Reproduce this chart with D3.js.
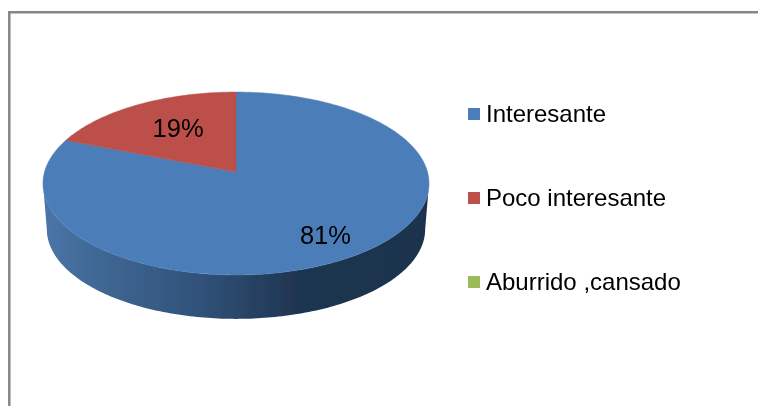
<!DOCTYPE html>
<html>
<head>
<meta charset="utf-8">
<script src="https://cdn.jsdelivr.net/npm/d3@7"></script>
<style>
  html, body { margin: 0; padding: 0; background: #fff; overflow: hidden; }
  text { font-family: "Liberation Sans", Arial, sans-serif; fill: #000; }
</style>
</head>
<body>
<div id="chart"></div>
<script>
const categories = ["Interesante", "Poco interesante", "Aburrido ,cansado"];
const percentages = [81, 19, 0];
const sliceColors = ["#4c7eb9", "#bd4f4b", "#9bbb59"];

const width = 758;
const height = 406;

// Pie geometry: a disc seen in perspective, so the apex sits above the ellipse middle
const cx = 236;
const apexY = 172;
const radiusX = 191.5;
const radiusY = 90;
const tilt = 0.1257;
const depth = 46;
const wallShrink = 0.98;

const color = d3.scaleOrdinal().domain(categories).range(sliceColors);
const legendY = d3.scalePoint().domain(categories).range([114, 282]);

const svg = d3.select("#chart")
    .append("svg")
    .attr("width", width)
    .attr("height", height)
    .style("display", "block");

const defs = svg.append("defs");

defs.append("filter")
    .attr("id", "soft")
    .attr("x", "-5%").attr("y", "-5%")
    .attr("width", "110%").attr("height", "110%")
  .append("feGaussianBlur")
    .attr("stdDeviation", 0.45);

const wallGradient = defs.append("linearGradient")
    .attr("id", "wall")
    .attr("gradientUnits", "userSpaceOnUse")
    .attr("x1", 43).attr("x2", 429)
    .attr("y1", 0).attr("y2", 0);

wallGradient.selectAll("stop")
    .data([
      [0, "#4a76a8"],
      [0.15, "#3f6793"],
      [0.4, "#31527a"],
      [0.66, "#1f3551"],
      [1, "#1e334e"]
    ])
    .join("stop")
    .attr("offset", d => d[0])
    .attr("stop-color", d => d[1]);

// Border only shows on the top and left, the rest is cropped off
svg.append("path")
    .attr("d", `M9.3,${height}V12.2H${width}`)
    .attr("fill", "none")
    .attr("stroke", "#868686")
    .attr("stroke-width", 2.5);

const root = svg.append("g").attr("filter", "url(#soft)");

// angle clockwise from the top, r as a fraction of the radius
function project(angle, r = 1) {
  const u = r * Math.sin(angle);
  const v = r * Math.cos(angle);
  const d = 1 + tilt * v;
  return [cx + radiusX * u / d, apexY - radiusY * v / d];
}

function lowered([x, y]) {
  return [cx + (x - cx) * wallShrink, apexY + (y - apexY) * wallShrink + depth];
}

const arcs = d3.pie().sort(null).value(d => d)(percentages);
const line = d3.line();

function arcPoints(a0, a1) {
  const n = Math.max(2, Math.ceil(Math.abs(a1 - a0) * 60));
  return d3.range(n + 1).map(i => project(a0 + (a1 - a0) * i / n));
}

// Side wall: the front of the rim, between its widest points, and the same rim lowered
const rim = arcPoints(Math.PI / 2 + tilt, 3 * Math.PI / 2 - tilt);
root.append("path")
    .attr("d", line(rim.concat(rim.map(lowered).reverse())) + "Z")
    .attr("fill", "url(#wall)");

// Top face
root.selectAll("path.slice")
    .data(arcs.filter(d => d.value > 0))
    .join("path")
    .attr("class", "slice")
    .attr("d", d => line([[cx, apexY], ...arcPoints(d.startAngle, d.endAngle)]) + "Z")
    .attr("fill", d => color(categories[d.index]))
    .attr("stroke", d => color(categories[d.index]))
    .attr("stroke-width", 0.5);

// Percent labels
const labelR = [0.765, 0.57];
const labelShift = [1, -4];
root.selectAll("text.pct")
    .data(arcs.filter(d => d.value > 0))
    .join("text")
    .attr("class", "pct")
    .attr("transform", d => {
      const [x, y] = project((d.startAngle + d.endAngle) / 2, labelR[d.index]);
      return `translate(${x},${y + labelShift[d.index]})`;
    })
    .attr("text-anchor", "middle")
    .attr("dy", "0.36em")
    .attr("font-size", 25.5)
    .text(d => d.value + "%");

// Legend
const legend = root.selectAll("g.legend")
    .data(categories)
    .join("g")
    .attr("class", "legend")
    .attr("transform", d => `translate(468,${legendY(d)})`);

legend.append("rect")
    .attr("y", -6)
    .attr("width", 12)
    .attr("height", 12)
    .attr("fill", d => color(d));

legend.append("text")
    .attr("x", 18)
    .attr("y", 7.5)
    .attr("font-size", 24)
    .text(d => d);
</script>
</body>
</html>
